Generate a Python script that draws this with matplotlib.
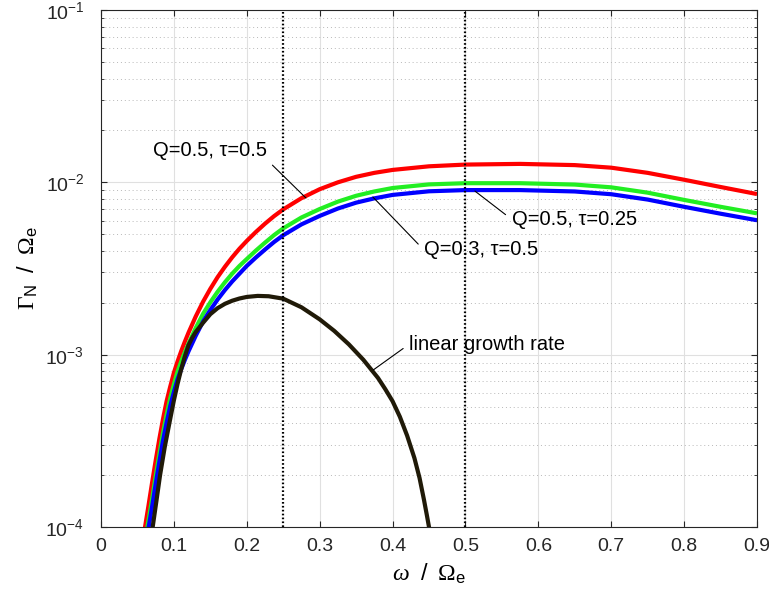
import matplotlib
matplotlib.use('Agg')
import matplotlib.pyplot as plt
import numpy as np
from matplotlib.ticker import LogLocator, NullLocator

plt.rcParams['font.family'] = ['Liberation Sans', 'DejaVu Sans']
plt.rcParams['mathtext.fontset'] = 'custom'
plt.rcParams['mathtext.rm'] = 'Liberation Serif'
plt.rcParams['mathtext.it'] = 'Liberation Serif:italic'
plt.rcParams['mathtext.sf'] = 'Liberation Sans'

# Growth rates, stored as log10(Gamma_N / Omega_e)
red_x = [0.057, 0.0604, 0.065, 0.07, 0.075, 0.08, 0.085, 0.09, 0.095, 0.10, 0.105, 0.11, 0.115,
         0.12, 0.13, 0.14, 0.15, 0.16, 0.17, 0.18, 0.19, 0.20, 0.2125, 0.225, 0.2375, 0.25,
         0.275, 0.30, 0.325, 0.35, 0.375, 0.40, 0.45, 0.50, 0.575, 0.65, 0.70, 0.75, 0.80,
         0.85, 0.90]
red_log10 = [-4.09, -4.0, -3.88, -3.745, -3.615, -3.49, -3.375, -3.27, -3.185, -3.105, -3.04,
             -2.98, -2.925, -2.873, -2.778, -2.693, -2.618, -2.55, -2.49, -2.435, -2.385, -2.34,
             -2.288, -2.24, -2.196, -2.157, -2.092, -2.04, -2.0, -1.968, -1.945, -1.928, -1.907,
             -1.897, -1.893, -1.900, -1.915, -1.945, -1.985, -2.027, -2.068]

green_x = [0.060, 0.0636, 0.07, 0.075, 0.08, 0.085, 0.09, 0.095, 0.10, 0.105, 0.11, 0.115, 0.12,
           0.13, 0.14, 0.15, 0.16, 0.17, 0.18, 0.19, 0.20, 0.2125, 0.225, 0.2375, 0.25, 0.275,
           0.30, 0.325, 0.35, 0.375, 0.40, 0.45, 0.50, 0.575, 0.65, 0.70, 0.75, 0.80, 0.85, 0.90]
green_log10 = [-4.10, -4.0, -3.84, -3.706, -3.578, -3.455, -3.35, -3.253, -3.172, -3.098, -3.04,
               -2.986, -2.936, -2.845, -2.763, -2.696, -2.635, -2.58, -2.53, -2.485, -2.445,
               -2.396, -2.35, -2.306, -2.267, -2.204, -2.155, -2.112, -2.078, -2.053, -2.033,
               -2.012, -2.005, -2.005, -2.013, -2.029, -2.06, -2.102, -2.142, -2.18]

blue_x = green_x
blue_log10 = [-4.145, -4.045, -3.885, -3.751, -3.623, -3.50, -3.395, -3.298, -3.217, -3.143,
              -3.085, -3.031, -2.981, -2.89, -2.808, -2.741, -2.68, -2.625, -2.575, -2.53,
              -2.485, -2.436, -2.39, -2.346, -2.307, -2.244, -2.195, -2.152, -2.118, -2.093,
              -2.073, -2.052, -2.045, -2.045, -2.053, -2.069, -2.10, -2.142, -2.182, -2.22]

linear_x = [0.067, 0.0709, 0.076, 0.081, 0.0875, 0.0937, 0.10, 0.105, 0.11, 0.115, 0.12, 0.125,
            0.13, 0.14, 0.15, 0.16, 0.17, 0.18, 0.19, 0.20, 0.215, 0.23, 0.25, 0.275, 0.30, 0.32,
            0.34, 0.36, 0.38, 0.39, 0.40, 0.41, 0.42, 0.43, 0.437, 0.443, 0.447, 0.450, 0.452]
linear_log10 = [-4.12, -4.0, -3.85, -3.70, -3.535, -3.40, -3.265, -3.17, -3.085, -3.01, -2.945,
                -2.903, -2.868, -2.815, -2.765, -2.73, -2.705, -2.687, -2.674, -2.665, -2.659,
                -2.661, -2.675, -2.725, -2.795, -2.862, -2.94, -3.03, -3.135, -3.20, -3.27,
                -3.36, -3.47, -3.60, -3.715, -3.84, -3.93, -4.0, -4.07]

xticks = [0, 0.1, 0.2, 0.3, 0.4, 0.5, 0.6, 0.7, 0.8, 0.9]
xtick_labels = ['0', '0.1', '0.2', '0.3', '0.4', '0.5', '0.6', '0.7', '0.8', '0.9']
marker_freqs = [0.25, 0.5]

# label text, point on the curve, text anchor, horizontal alignment
labels = [
    ('Q=0.5, τ=0.5', (0.2812, 8.11e-3), (0.2273, 1.54e-2), 'right'),
    ('Q=0.5, τ=0.25', (0.513, 8.9e-3), (0.5634, 6.10e-3), 'left'),
    ('Q=0.3, τ=0.5', (0.373, 8.22e-3), (0.443, 4.05e-3), 'left'),
    ('linear growth rate', (0.3735, 8.15e-4), (0.423, 1.152e-3), 'left'),
]


def draw_curve(ax, x, log_vals, color):
    ax.plot(x, np.power(10.0, log_vals), color=color, lw=3,
            solid_capstyle='butt', solid_joinstyle='round')


def main():
    fig = plt.figure(figsize=(7.69, 6.01), dpi=100)
    ax = fig.add_axes([101 / 769, 74 / 601, 656 / 769, 517 / 601])

    ax.set_yscale('log')
    ax.set_xlim(0, 0.9)
    ax.set_ylim(1e-4, 1e-1)

    draw_curve(ax, red_x, red_log10, '#ff0000')
    draw_curve(ax, green_x, green_log10, '#22ee22')
    draw_curve(ax, blue_x, blue_log10, '#0000ff')
    draw_curve(ax, linear_x, linear_log10, '#201a08')

    for f in marker_freqs:
        ax.axvline(f, color='k', ls=(0, (0.75, 1.0)), lw=1.6)

    for text, xy, xytext, ha in labels:
        ax.annotate(text, xy=xy, xytext=xytext, ha=ha, va='center', fontsize=14.5,
                    arrowprops=dict(arrowstyle='-', lw=0.8, color='k',
                                    relpos=(1, 0) if ha == 'right' else (0, 0.5),
                                    shrinkA=3, shrinkB=0))

    ax.set_xticks(xticks)
    ax.set_xticklabels(xtick_labels)
    ax.xaxis.set_minor_locator(NullLocator())
    ax.yaxis.set_major_locator(LogLocator(base=10))
    ax.yaxis.set_minor_locator(LogLocator(base=10, subs=range(2, 10)))

    ax.set_axisbelow(True)
    ax.grid(which='major', color=(0.88, 0.88, 0.88), lw=0.8, ls='-')
    ax.grid(which='minor', axis='y', color=(0.72, 0.72, 0.72), lw=0.7, ls=(0, (1, 3)))

    for s in ax.spines.values():
        s.set_color((0.15, 0.15, 0.15))
        s.set_linewidth(0.8)
    ax.tick_params(which='both', direction='in', top=True, right=True, colors=(0.15, 0.15, 0.15))
    ax.tick_params(which='major', length=4.5, width=0.8)
    ax.tick_params(which='minor', length=2.4, width=0.6)
    ax.tick_params(axis='x', labelsize=14, pad=8, labelcolor='#262626')
    ax.tick_params(axis='y', labelsize=14, pad=12, labelcolor='#262626')

    ax.set_xlabel(r'$\omega\ \ \mathsf{/}\ \ \Omega_{\mathsf{e}}$', fontsize=17)
    ax.set_ylabel(r'$\Gamma_{\mathsf{N}}\ \ \mathsf{/}\ \ \Omega_{\mathsf{e}}$', fontsize=17)
    ax.xaxis.set_label_coords(0.5, -0.068)
    ax.yaxis.set_label_coords(-0.093, 0.5)

    fig.savefig('out.png', dpi=100)


if __name__ == '__main__':
    main()
